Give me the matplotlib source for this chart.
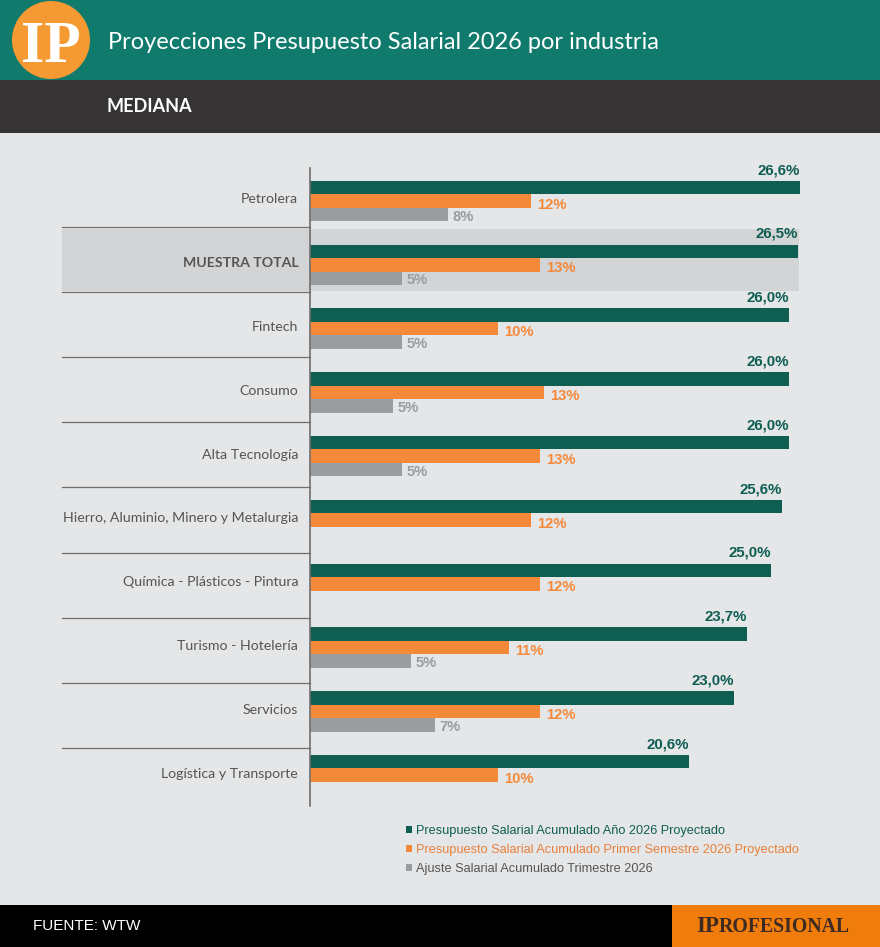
import matplotlib
matplotlib.use("Agg")
import matplotlib.pyplot as plt
from matplotlib.patches import Rectangle, Circle
import numpy as np

# ---------------- data ----------------
categories = ["Petrolera", "MUESTRA TOTAL", "Fintech", "Consumo", "Alta Tecnología",
              "Hierro, Aluminio, Minero y Metalurgia", "Química - Plásticos - Pintura",
              "Turismo - Hotelería", "Servicios", "Logística y Transporte"]
anual = [26.6, 26.5, 26.0, 26.0, 26.0, 25.6, 25.0, 23.7, 23.0, 20.6]
anual_labels = ["26,6%", "26,5%", "26,0%", "26,0%", "26,0%", "25,6%", "25,0%", "23,7%", "23,0%", "20,6%"]
semestre = [12.0, 12.5, 10.2, 12.7, 12.5, 12.0, 12.5, 10.8, 12.5, 10.2]
semestre_labels = ["12%", "13%", "10%", "13%", "13%", "12%", "12%", "11%", "12%", "10%"]
trimestre = [7.5, 5.0, 5.0, 4.5, 5.0, np.nan, np.nan, 5.5, 6.8, np.nan]
trimestre_labels = ["8%", "5%", "5%", "5%", "5%", "", "", "5%", "7%", ""]
series_names = ["Presupuesto Salarial Acumulado Año 2026 Proyectado",
                "Presupuesto Salarial Acumulado Primer Semestre 2026 Proyectado",
                "Ajuste Salarial Acumulado Trimestre 2026"]
title = "Proyecciones Presupuesto Salarial 2026 por industria"
subtitle = "MEDIANA"
source = "FUENTE: WTW"
highlight = "MUESTRA TOTAL"

# ---------------- style ----------------
GREEN = "#0f5e52"
ORANGE = "#f5893a"
GRAY = "#9b9c9f"
BG = "#e4e6e8"
TEAL = "#107b6c"
DARK = "#373435"
HL = "#d2d4d6"
TXT = "#555555"
W, H = 880, 947

fig = plt.figure(figsize=(W / 100, H / 100), dpi=100)
fig.patch.set_facecolor(BG)

# background / decoration axes in pixel coordinates
bg = fig.add_axes([0, 0, 1, 1], zorder=0)
bg.set_xlim(0, W)
bg.set_ylim(H, 0)
bg.axis("off")
bg.add_patch(Rectangle((0, 0), W, 80, color=TEAL, lw=0))
bg.add_patch(Rectangle((0, 80), W, 53, color=DARK, lw=0))
bg.add_patch(Rectangle((0, 905), W, 42, color="black", lw=0))
bg.add_patch(Rectangle((672, 905), W - 672, 42, color="#f07c0b", lw=0))
bg.add_patch(Circle((51, 40), 39, color="#f59a33", lw=0))
bg.text(51, 62, "IP", color="white", fontsize=43, family="Liberation Serif",
        fontweight="bold", ha="center", va="baseline")
bg.text(108, 42, title, color="white", fontsize=17, family="Lato", ha="left", va="center")
bg.text(107, 106, subtitle, color="white", fontsize=13, family="Lato",
        fontweight="bold", ha="left", va="center")
bg.text(33, 926, source, color="white", fontsize=11, family="Liberation Sans",
        ha="left", va="center")
t1 = bg.text(696, 932, "IP", color="#3d2a22", fontsize=16.5, family="Liberation Serif",
             fontweight="bold", ha="left", va="baseline")
fig.canvas.draw()
bb = t1.get_window_extent()
inv = bg.transData.inverted()
x_end = inv.transform((bb.x1, bb.y0))[0]
bg.text(x_end, 932, "ROFESIONAL", color="#3d2a22", fontsize=14.2, family="Liberation Serif",
        fontweight="bold", ha="left", va="baseline")

# highlight band + separators
bg.add_patch(Rectangle((62, 229), 799 - 62, 62, color=HL, lw=0))
for k in range(len(categories) - 1):
    yy = 227 + 65.1 * k
    bg.plot([62, 310], [yy, yy], color="#6f6f6f", lw=0.9)

# main chart axes
PX = 18.42
pitch = 63.8
ax = fig.add_axes([310 / W, 1 - 813 / H, 570 / W, (813 - 162) / H], zorder=1)
ax.patch.set_alpha(0)
ax.set_xlim(0, 570 / PX)
ax.set_ylim((813 - 187.5) / pitch, -(187.5 - 162) / pitch)
bh = 13.5 / pitch
y = np.arange(len(categories))
tri = np.array(trimestre, dtype=float)
mask = ~np.isnan(tri)
b1 = ax.barh(y, anual, height=bh, color=GREEN, label=series_names[0])
b2 = ax.barh(y + bh, semestre, height=bh, color=ORANGE, label=series_names[1])
b3 = ax.barh(y[mask] + 2 * bh, tri[mask], height=bh, color=GRAY, label=series_names[2])

for sp in ["top", "right", "bottom"]:
    ax.spines[sp].set_visible(False)
ax.spines["left"].set_color("#6f6f6f")
ax.spines["left"].set_linewidth(1.2)
ax.spines["left"].set_bounds((806 - 187.5) / pitch, (168 - 187.5) / pitch)
ax.set_xticks([])
ax.set_yticks(y + bh * 0.8)
ax.set_yticklabels(categories, fontsize=10.2, color=TXT, family="Lato")
ax.tick_params(axis="y", length=0, pad=8.5)
for lab in ax.get_yticklabels():
    if lab.get_text() == highlight:
        lab.set_fontweight("bold")

for i in range(len(categories)):
    ax.text(anual[i], y[i] - 17.5 / pitch, anual_labels[i], color=GREEN,
            ha="right", va="center", family="Liberation Sans", fontweight="bold", fontsize=10.8)
    ax.text(semestre[i] + 0.33, y[i] + bh + 3.5 / pitch, semestre_labels[i], color=ORANGE,
            ha="left", va="center", family="Liberation Sans", fontweight="bold", fontsize=10.6)
    if trimestre_labels[i]:
        ax.text(tri[i] + 0.25, y[i] + 2 * bh + 2 / pitch, trimestre_labels[i], color=GRAY,
                ha="left", va="center", family="Liberation Sans", fontweight="bold", fontsize=10.6)

leg = fig.legend(handles=[b1, b2, b3], labels=series_names, loc="upper left",
                 bbox_to_anchor=(406 / W, 1 - 825 / H), frameon=False,
                 handlelength=0.5, handleheight=0.5, handletextpad=0.25,
                 labelspacing=0.55, borderpad=0, borderaxespad=0,
                 labelcolor=[GREEN, "#e8813c", TXT], prop={"family": "Liberation Sans", "size": 9.2})

fig.savefig("out.png", dpi=100, facecolor=BG)
